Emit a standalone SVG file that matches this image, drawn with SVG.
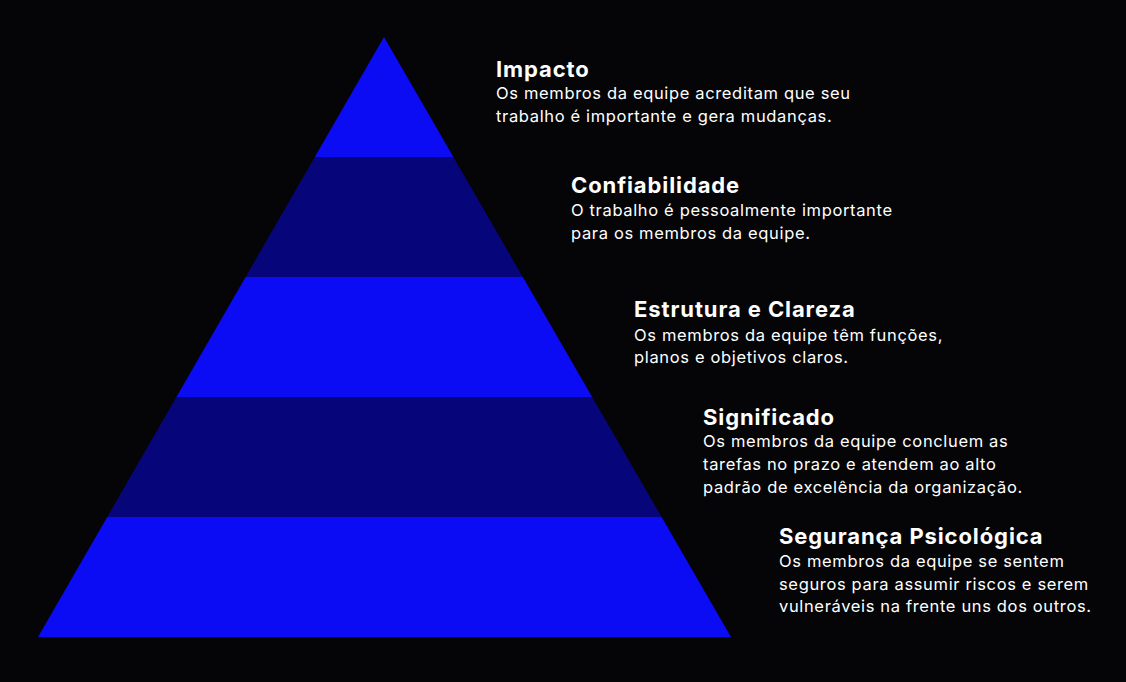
<svg xmlns="http://www.w3.org/2000/svg" width="1126" height="682" viewBox="0 0 1126 682">
<style>
.b{fill:#0b0bf4}.d{fill:#06067a}
.t{font-family:Inter,"Liberation Sans",sans-serif;font-weight:700;font-size:22px;letter-spacing:0.9px;fill:#fff}
.s{font-family:Inter,"Liberation Sans",sans-serif;font-size:16.5px;letter-spacing:0.65px;fill:#fff}
</style>
<rect width="1126" height="682" fill="#050508"/>
<g id="pyramid">
<polygon class="b" points="384,37 453.4,157 314.8,157"/>
<polygon class="d" points="314.8,157 453.4,157 522.8,277 245.6,277"/>
<polygon class="b" points="245.6,277 522.8,277 592.2,397 176.4,397"/>
<polygon class="d" points="176.4,397 592.2,397 661.6,517 107.2,517"/>
<polygon class="b" points="107.2,517 661.6,517 731,637 38,637"/>
</g>
<g id="impacto"><text class="t" x="496" y="77">Impacto</text>
<text class="s" x="496" y="99">Os membros da equipe acreditam que seu</text>
<text class="s" x="496" y="122">trabalho é importante e gera mudanças.</text></g>
<g id="confiabilidade"><text class="t" x="571" y="193">Confiabilidade</text>
<text class="s" x="571" y="216">O trabalho é pessoalmente importante</text>
<text class="s" x="571" y="239">para os membros da equipe.</text></g>
<g id="estrutura"><text class="t" x="634" y="317">Estrutura e Clareza</text>
<text class="s" x="634" y="341">Os membros da equipe têm funções,</text>
<text class="s" x="634" y="363">planos e objetivos claros.</text></g>
<g id="significado"><text class="t" x="703" y="425">Significado</text>
<text class="s" x="703" y="447">Os membros da equipe concluem as</text>
<text class="s" x="703" y="470">tarefas no prazo e atendem ao alto</text>
<text class="s" x="703" y="493">padrão de excelência da organização.</text></g>
<g id="seguranca"><text class="t" x="779" y="544">Segurança Psicológica</text>
<text class="s" x="779" y="567">Os membros da equipe se sentem</text>
<text class="s" x="779" y="590">seguros para assumir riscos e serem</text>
<text class="s" x="779" y="612">vulneráveis na frente uns dos outros.</text></g>
<g id="connectors"/>
</svg>
